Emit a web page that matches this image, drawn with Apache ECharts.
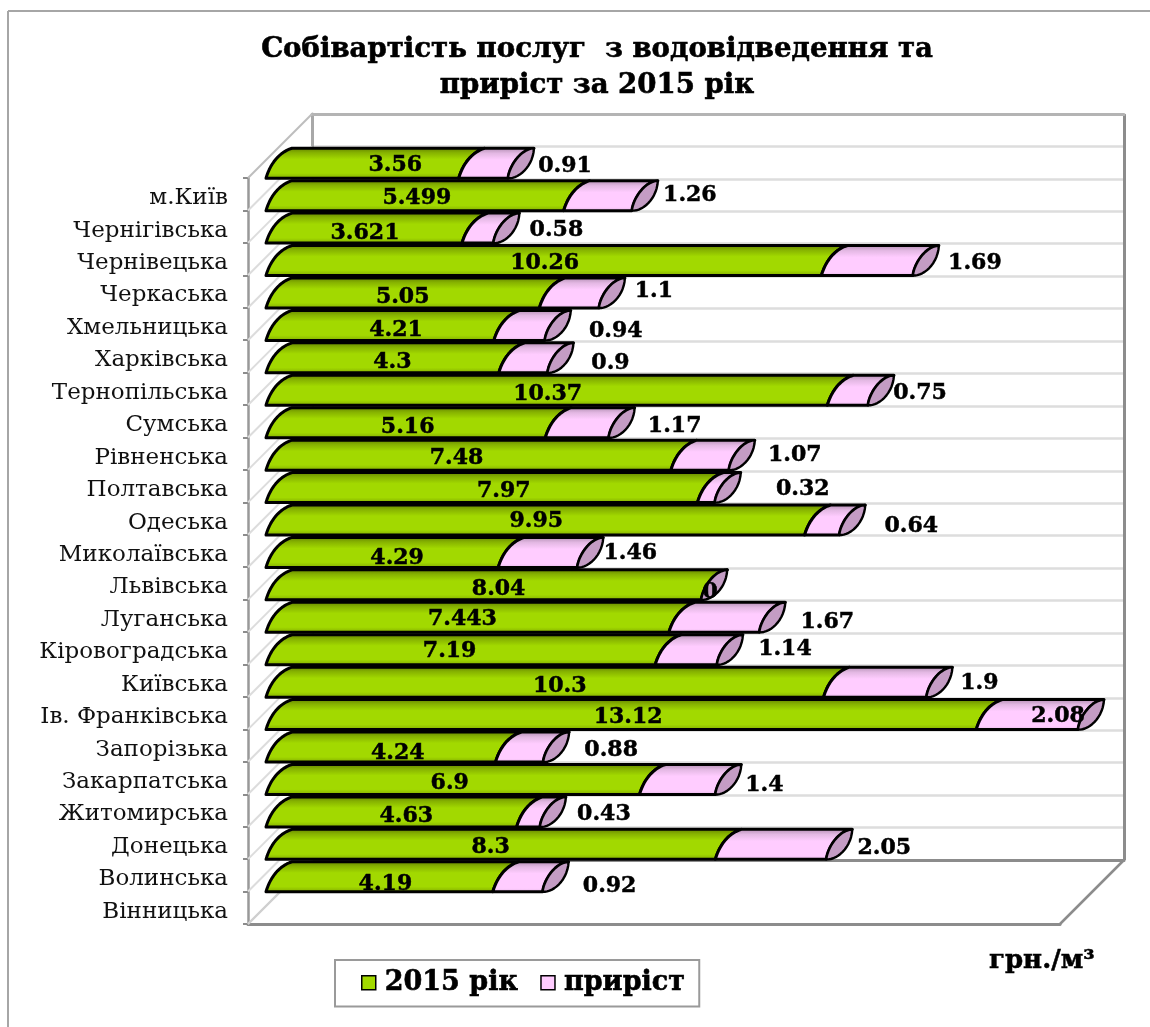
<!DOCTYPE html>
<html>
<head>
<meta charset="utf-8">
<style>html,body{margin:0;padding:0;background:#fff}#c{width:1150px;height:1027px}</style>
<script src="https://cdn.jsdelivr.net/npm/echarts@6/dist/echarts.min.js"></script>
</head>
<body>
<div id="c"></div>
<script>
const categories = ['м.Київ','Чернігівська','Чернівецька','Черкаська','Хмельницька','Харківська','Тернопільська','Сумська','Рівненська','Полтавська','Одеська','Миколаївська','Львівська','Луганська','Кіровоградська','Київська','Ів. Франківська','Запорізька','Закарпатська','Житомирська','Донецька','Волинська','Вінницька'];
const base2015 = [3.56,5.499,3.621,10.26,5.05,4.21,4.3,10.37,5.16,7.48,7.97,9.95,4.29,8.04,7.443,7.19,10.3,13.12,4.24,6.9,4.63,8.3,4.19];
const gain = [0.91,1.26,0.58,1.69,1.1,0.94,0.9,0.75,1.17,1.07,0.32,0.64,1.46,0,1.67,1.14,1.9,2.08,0.88,1.4,0.43,2.05,0.92];
const seriesNames = ['2015 рік','приріст'];
const titleText = 'Собівартість послуг  з водовідведення та\nприріст за 2015 рік';
const unitText = 'грн./м³';

// manual placement of the data labels relative to the bars, as in the original
const baseNudge = [[20,2],[-11,3],[-12,5],[-12,3],[-13,4],[3,5],[-3,4],[-12,4],[-11,5],[-25,3],[9,4],[-12,1],[2,6],[2,4],[-18,2],[-24,2],[2,4],[-6,3],[4,6],[-16,4],[2,4],[-13,3],[-7,7]];
const gainNudge = [[13,3],[14,0],[19,2],[18,3],[11,-2],[27,6],[19,5],[8,3],[22,4],[22,0],[44,2],[28,6],[9,1],[-35,7],[24,5],[24,0],[9,1],[-64,2],[24,3],[5,6],[20,2],[14,4],[23,9]];

const AXIS_MAX = 15;
const DEPTH = 64, BX = 18, TX = 44, BY = -16, TY = -46;
const chart = echarts.init(document.getElementById('c'), null, {renderer:'canvas'});
const G = echarts.graphic.LinearGradient;
const greenFill = () => new G(0,0,0,1,[{offset:0,color:'#5d7a00'},{offset:.18,color:'#86b200'},{offset:.38,color:'#a2d900'},{offset:.8,color:'#a2d900'},{offset:1,color:'#7ca400'}]);
const pinkFill = () => new G(0,0,0,1,[{offset:0,color:'#a985a9'},{offset:.2,color:'#e3b8e3'},{offset:.4,color:'#ffccff'},{offset:.85,color:'#ffccff'},{offset:1,color:'#dcb0dc'}]);

function bez(p0,p1,p2,p3,n){
  const out=[];
  for(let k=0;k<=n;k++){const t=k/n,u=1-t;
    out.push([u*u*u*p0[0]+3*u*u*t*p1[0]+3*u*t*t*p2[0]+t*t*t*p3[0],
              u*u*u*p0[1]+3*u*u*t*p1[1]+3*u*t*t*p2[1]+t*t*t*p3[1]]);}
  return out;
}
// left side of the slanted section, from the bottom point up to the top point
function leftEdge(xb,yb,xt,yt){return bez([xb,yb],[xb+4,yb-14],[xb+13,yt+4],[xt,yt],14);}
// narrow end cap: two shallow arcs between the bottom and the top point
function capLeft(xb,yb,xt,yt){return bez([xb,yb],[xb+1,yb-11],[xb+12,yt+1],[xt,yt],14);}
function capRight(xb,yb,xt,yt){return bez([xb,yb],[xb+10,yb+1],[xt-1,yb-11],[xt,yt],14);}
function labelEl(x,y,t){
  return {type:'text',z2:20,silent:true,style:{x:x,y:y,text:t,font:'bold 22px "DejaVu Serif"',fill:'#000',stroke:'#000',lineWidth:0.5,align:'center',verticalAlign:'middle'}};
}
function renderBase(params,api){
  const i=api.value(1), v=api.value(0);
  const p0=api.coord([0,i]), p1=api.coord([v,i]);
  const pm=api.coord([v/2,i]);
  const n=baseNudge[i];
  const yb=p0[1]+BY, yt=p0[1]+TY;
  const pts=leftEdge(p0[0]+BX,yb,p0[0]+TX,yt).concat(leftEdge(p1[0]+BX,yb,p1[0]+TX,yt).reverse());
  return {type:'group',children:[
    {type:'polygon',z2:5+i*0.1,shape:{points:pts},
     style:{fill:greenFill(),stroke:'#000',lineWidth:3,lineJoin:'round'}},
    labelEl(pm[0]+31+n[0],p0[1]-31+n[1],String(v))
  ]};
}
function renderGain(params,api){
  const i=api.value(1), v=api.value(0), b=api.value(2);
  const p0=api.coord([b,i]), p1=api.coord([Math.min(b+v,AXIS_MAX),i]);
  const n=gainNudge[i], yb=p1[1]+BY, yt=p1[1]+TY;
  const ex=p1[0];
  const cap=capRight(ex+BX,yb,ex+TX,yt).concat(capLeft(ex+BX,yb,ex+TX,yt).reverse());
  const left=leftEdge(p0[0]+BX,yb,p0[0]+TX,yt);
  const right=capLeft(ex+BX,yb,ex+TX,yt).reverse();
  return {type:'group',children:[
    {type:'polygon',z2:6+i*0.1,shape:{points:left.concat(right)},
     style:{fill:pinkFill(),stroke:'#000',lineWidth:3,lineJoin:'round'}},
    {type:'polygon',z2:7+i*0.1,shape:{points:cap},
     style:{fill:'#c49cc4',stroke:'#000',lineWidth:2.4,lineJoin:'round'}},
    labelEl(p1[0]+62+n[0],p1[1]-31+n[1],String(v))
  ]};
}
function renderWall(params,api){
  const i=api.value(1), band=api.size([0,1])[1];
  const p=api.coord([0,i]), yb=p[1]+band/2, ch=[];
  const ln=(x1,y1,x2,y2,c,w)=>({type:'line',shape:{x1,y1,x2,y2},style:{stroke:c,lineWidth:w}});
  ch.push(ln(p[0],yb,p[0]+DEPTH,yb-DEPTH,'#dcdcdc',2));
  if(i===0) ch.push(ln(p[0],yb-band,p[0]+DEPTH,yb-band-DEPTH,'#bdbdbd',2));
  if(i===categories.length-1){
    const q=api.coord([AXIS_MAX,i]);
    ch.push(ln(p[0],yb,p[0]+DEPTH,yb-DEPTH,'#cfcfcf',2));
    ch.push(ln(q[0],yb,q[0]+DEPTH,yb-DEPTH,'#8c8c8c',2.5));
  }
  return {type:'group',children:ch};
}

chart.setOption({
  animation:false,
  backgroundColor:'#fff',
  title:{text:titleText,left:592,top:27,textAlign:'center',
    textStyle:{fontFamily:'DejaVu Serif',fontWeight:'bold',fontSize:27.6,lineHeight:36,color:'#000',textBorderColor:'#000',textBorderWidth:0.6}},
  legend:{left:335,top:960,data:seriesNames,icon:'rect',
    padding:[9,14,10,26],borderColor:'#9a9a9a',borderWidth:2,backgroundColor:'#fff',
    itemWidth:14,itemHeight:14,itemGap:22,
    itemStyle:{borderColor:'#000',borderWidth:1.5},
    textStyle:{fontFamily:'DejaVu Serif',fontWeight:'bold',fontSize:27,color:'#000',textBorderColor:'#000',textBorderWidth:0.6,padding:[0,0,0,4]}},
  grid:[
    {left:248,top:178,width:812,height:746,containLabel:false},
    {left:312,top:114,width:812,height:746,containLabel:false}
  ],
  xAxis:[
    {type:'value',gridIndex:0,min:0,max:AXIS_MAX,interval:AXIS_MAX,
     axisLine:{show:true,lineStyle:{color:'#8c8c8c',width:3}},axisTick:{show:false},axisLabel:{show:false},splitLine:{show:false}},
    {type:'value',gridIndex:1,min:0,max:AXIS_MAX,interval:AXIS_MAX,
     axisLine:{show:true,lineStyle:{color:'#8c8c8c',width:3}},axisTick:{show:false},axisLabel:{show:false},
     splitLine:{show:true,showMinLine:false,lineStyle:{color:'#8c8c8c',width:3}}},
    {type:'value',gridIndex:1,position:'top',min:0,max:AXIS_MAX,interval:AXIS_MAX,
     axisLine:{show:true,lineStyle:{color:'#b4b4b4',width:3}},axisTick:{show:false},axisLabel:{show:false},splitLine:{show:false}}
  ],
  yAxis:[
    {type:'category',gridIndex:0,inverse:true,data:categories,
     axisLine:{show:true,lineStyle:{color:'#999',width:2.5}},
     axisTick:{show:true,length:5,lineStyle:{color:'#8c8c8c',width:2}},
     axisLabel:{show:true,interval:0,margin:20,fontFamily:'DejaVu Serif',fontSize:23,color:'#111',lineHeight:26,verticalAlign:'top',padding:[-9,0,0,0]},
     splitLine:{show:false}},
    {type:'category',gridIndex:1,inverse:true,data:categories,
     axisLine:{show:true,lineStyle:{color:'#a8a8a8',width:3}},axisTick:{show:false},axisLabel:{show:false},
     splitLine:{show:true,interval:0,lineStyle:{color:'#dddddd',width:2.5}}}
  ],
  series:[
    {type:'custom',name:'walls',xAxisIndex:0,yAxisIndex:0,z:1,silent:true,legendHoverLink:false,
     renderItem:renderWall,encode:{x:0,y:1},
     data:categories.map((c,i)=>[0,i])},
    {type:'custom',name:seriesNames[0],xAxisIndex:0,yAxisIndex:0,z:5,
     renderItem:renderBase,encode:{x:0,y:1},
     itemStyle:{color:'#a2d900'},
     data:base2015.map((v,i)=>[v,i])},
    {type:'custom',name:seriesNames[1],xAxisIndex:0,yAxisIndex:0,z:5,
     renderItem:renderGain,encode:{x:0,y:1},
     itemStyle:{color:'#ffccff'},
     data:gain.map((v,i)=>[v,i,base2015[i]])}
  ],
  graphic:[
    {type:'line',silent:true,shape:{x1:8,y1:11,x2:1150,y2:11},style:{stroke:'#a6a6a6',lineWidth:2}},
    {type:'line',silent:true,shape:{x1:8,y1:11,x2:8,y2:1027},style:{stroke:'#a6a6a6',lineWidth:2}},
    {type:'text',silent:true,style:{x:989,y:961,text:unitText,font:'bold 26px "DejaVu Serif"',fill:'#000',stroke:'#000',lineWidth:0.5,verticalAlign:'middle'}}
  ]
});
</script>
</body>
</html>
